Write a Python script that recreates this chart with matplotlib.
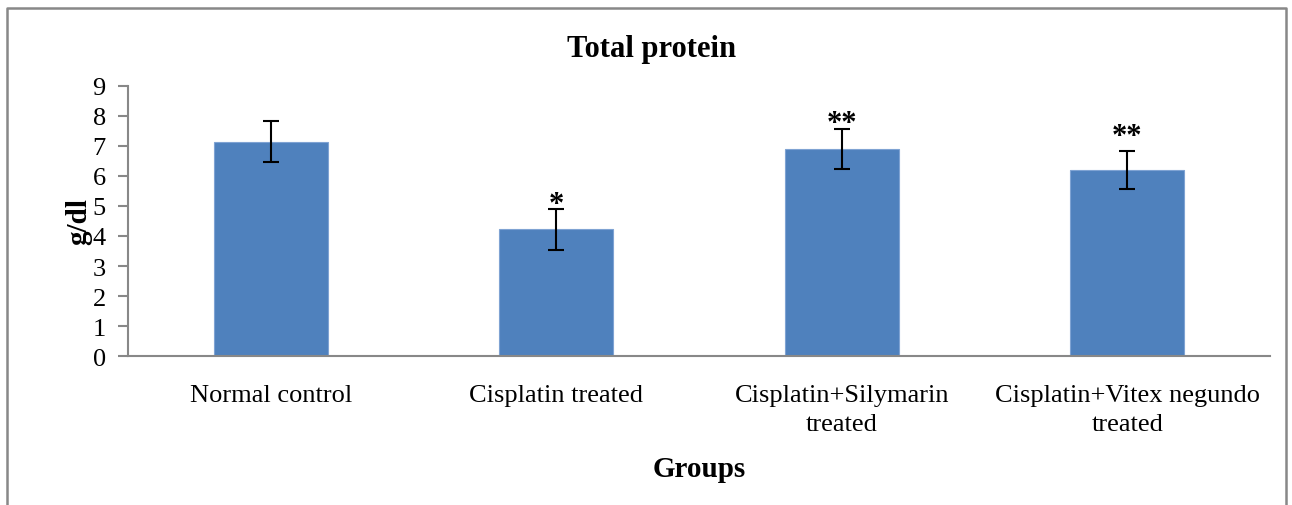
import matplotlib.pyplot as plt
from matplotlib.lines import Line2D

plt.rcParams['font.family'] = ['Liberation Serif', 'DejaVu Serif']

groups = ['Normal control', 'Cisplatin treated',
          'Cisplatin+Silymarin\ntreated', 'Cisplatin+Vitex negundo\ntreated']
means = [7.15, 4.22, 6.9, 6.2]
errors = [0.67, 0.67, 0.66, 0.63]
marks = ['', '*', '**', '**']

W, H = 1292, 506
fig = plt.figure(figsize=(W / 100, H / 100), dpi=100)
ax = fig.add_axes([128 / W, 1 - 357 / H, (1270 - 128) / W, 270 / H])

x = range(len(groups))
ax.bar(x, means, width=0.4, color='#4F81BD', edgecolor='#7FA3D3', linewidth=0.8,
       yerr=errors, capsize=6, error_kw=dict(ecolor='black', elinewidth=1.5, capthick=1.5))

# significance marks above the error caps
mark_gap = [0, 0.16, 0.18, 0.47]
for i, (m, e, s) in enumerate(zip(means, errors, marks)):
    if s:
        ax.text(i, m + e + mark_gap[i], s, ha='center', va='center', fontsize=22, fontweight='bold')

ax.set_xlim(-0.5, 3.5)
ax.set_ylim(0, 9)
ax.set_yticks(range(10))
ax.set_xticks(list(x))
ax.set_xticklabels(groups, fontsize=19, linespacing=1.45)
ax.tick_params(axis='x', length=0, pad=20)
ax.tick_params(axis='y', length=7, width=1.5, color='#888888', labelsize=19, pad=9, direction='out')
for sp in ['top', 'right']:
    ax.spines[sp].set_visible(False)
for sp in ['left', 'bottom']:
    ax.spines[sp].set_color('#888888')
    ax.spines[sp].set_linewidth(1.5)

ax.set_ylabel('g/dl', fontsize=21, fontweight='bold', labelpad=0)
ax.set_xlabel('Groups', fontsize=21, fontweight='bold', labelpad=14)
# title sits at the centre of the whole chart, not the plot area
fig.text(0.504, 1 - 57 / H, 'Total protein', ha='center', va='baseline',
         fontsize=22, fontweight='bold')

# outer chart frame, open at the bottom
fx = lambda p: p / W
fy = lambda p: 1 - p / H
fig.add_artist(Line2D([fx(7), fx(7), fx(1286), fx(1286)], [0, fy(9), fy(9), 0],
                      color='#888888', linewidth=1.8, transform=fig.transFigure))

fig.savefig('out.png', dpi=100)
